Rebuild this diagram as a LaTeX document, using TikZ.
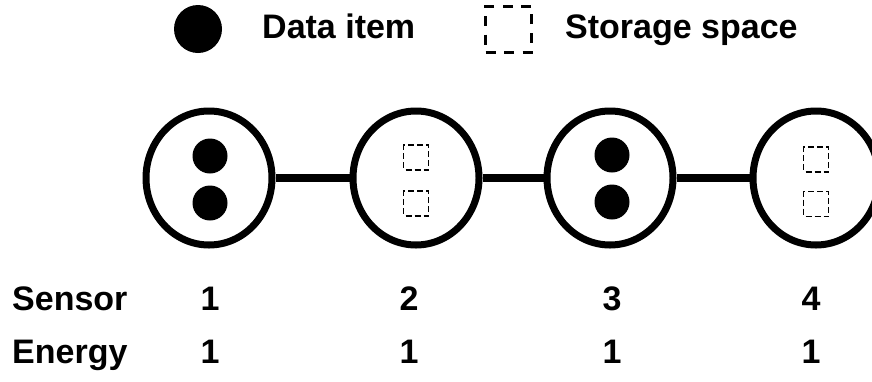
\documentclass[tikz,border=0pt]{standalone}
\usepackage{fontspec}
\setmainfont{Liberation Sans}
\usetikzlibrary{shapes.geometric}
\tikzset{
  lbl/.style={font=\fontsize{34}{39}\selectfont\bfseries, inner sep=0pt},
  sensor/.style={ellipse, draw, line width=7pt, fill=white, inner sep=0pt,
                 minimum width=126pt, minimum height=134pt},
  link/.style={line width=8pt},
  dataitem/.style={circle, fill=black, inner sep=0pt, minimum size=35pt},
  slot/.style={rectangle, draw, line width=1.5pt, dash pattern=on 6pt off 3pt,
               dash phase=-2pt, inner sep=0pt, minimum size=25pt},
  bigdot/.style={circle, fill=black, inner sep=0pt, minimum size=48pt},
  bigslot/.style={rectangle, draw, line width=3pt, dash pattern=on 10pt off 8.5pt,
                  inner sep=0pt, minimum size=46pt}
}
\begin{document}
\begin{tikzpicture}[x=1pt,y=-1pt]
\useasboundingbox (0,0) rectangle (872,381);
\clip (0,0) rectangle (872,381);

% legend
\node[bigdot] (ld) at (198,29) {};
\node[lbl, anchor=base west] (lt1) at (262,38) {Data item};
\node[bigslot] (ls) at (508.5,29) {};
\node[lbl, anchor=base west] (lt2) at (565,38) {Storage space};

% sensors
\node[sensor] (s1) at (209,178) {};
\node[sensor] (s2) at (416,178) {};
\node[sensor] (s3) at (610,178) {};
\node[sensor] (s4) at (816,178) {};

\draw[link] (s1.east) -- (s2.west);
\draw[link] (s2.east) -- (s3.west);
\draw[link] (s3.east) -- (s4.west);

% contents
\node[dataitem] (d1a) at (210,156) {};
\node[dataitem] (d1b) at (210,203) {};
\node[slot] (e2a) at (416,157.5) {};
\node[slot] (e2b) at (416,203.5) {};
\node[dataitem] (d3a) at (612,155) {};
\node[dataitem] (d3b) at (612,202) {};
\node[slot] (e4a) at (816,159.5) {};
\node[slot] (e4b) at (816,204) {};

% table
\node[lbl, anchor=base west] (rs) at (12,310) {Sensor};
\node[lbl, anchor=base west] (re) at (12,363) {Energy};
\foreach \x/\n/\e [count=\i] in {210/1/1, 409/2/1, 612/3/1, 811/4/1} {
  \node[lbl, anchor=base] (n\i) at (\x,310) {\n};
  \node[lbl, anchor=base] (en\i) at (\x,363) {\e};
}
\end{tikzpicture}
\end{document}
